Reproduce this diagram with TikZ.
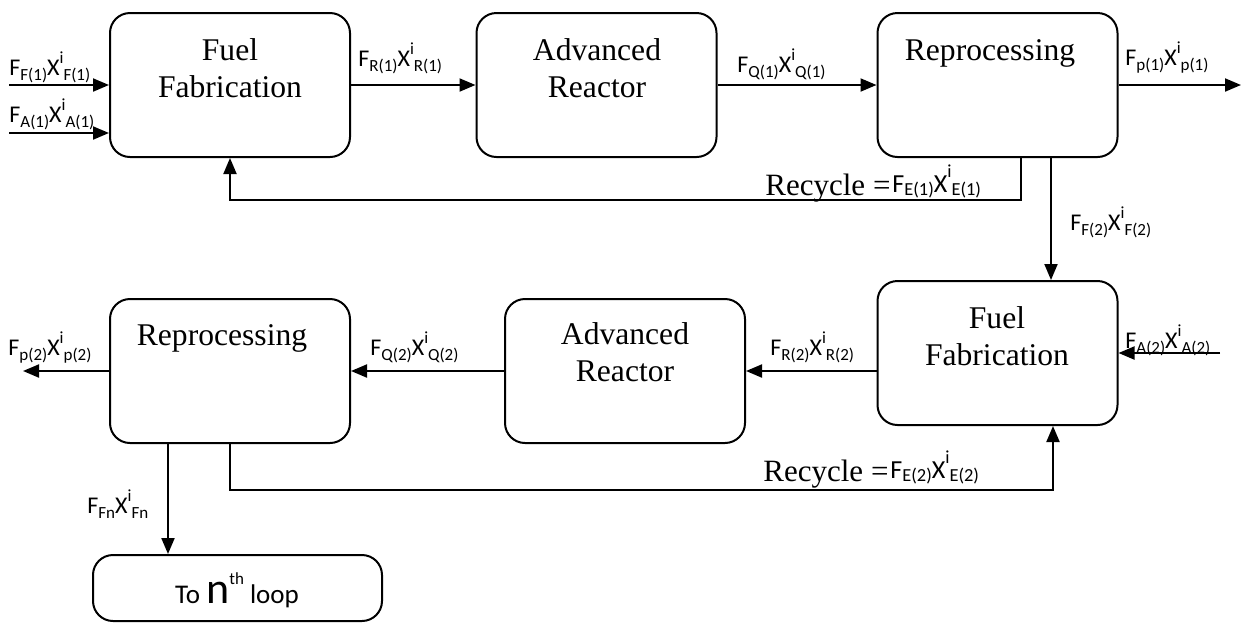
\documentclass[tikz,border=0pt]{standalone}
\usepackage{fontspec}
\setmainfont{Liberation Serif}
\newfontfamily\calfont{Carlito}
\usetikzlibrary{arrows.meta}

% stream label: F_{s} X^{i}_{s}
\newcommand{\lowsub}[1]{\raisebox{-0.22em}{\fontsize{8.5}{9}\selectfont #1}}
\newcommand{\highsup}[1]{\raisebox{0.5em}{\fontsize{8.5}{9}\selectfont #1}}
\newcommand{\flowlbl}[1]{F\lowsub{#1}X\highsup{i}\lowsub{#1}}
% recycle stream label, set slightly larger and a little higher
\newcommand{\reclbl}[1]{\raisebox{1.5pt}{\calfont\fontsize{13}{15}\selectfont
  F\raisebox{-0.12em}{\fontsize{9.2}{10}\selectfont #1}X\raisebox{0.55em}{\fontsize{9.2}{10}\selectfont i}\raisebox{-0.12em}{\fontsize{9.2}{10}\selectfont #1}}}

\begin{document}
\begin{tikzpicture}[x=0.5pt,y=-0.5pt,
  unit/.style={draw, line width=1pt, rounded corners=10pt,
    minimum width=120pt, minimum height=72pt, inner sep=0pt},
  unittext/.style={font=\fontsize{15.8}{18.5}\selectfont, align=center, inner sep=0pt},
  stream/.style={font=\calfont\fontsize{12}{14}\selectfont, inner sep=0pt, anchor=base west},
  recyc/.style={font=\fontsize{15.5}{18}\selectfont, inner sep=0pt, anchor=base west},
  flow/.style={line width=1pt, -{Triangle[length=8pt,width=6.5pt]}}]
\useasboundingbox (0,0) rectangle (1242,623);

% process units
\node[unit] (ff1) at (230,85) {};
\node[unit] (ar1) at (596.5,85) {};
\node[unit] (rp1) at (997.5,85) {};
\node[unit] (ff2) at (997.5,353) {};
\node[unit] (ar2) at (625,371) {};
\node[unit] (rp2) at (230,371) {};
\node[unit, minimum width=144.5pt, minimum height=33pt] (nth) at (237.5,588) {};

% unit titles
\node[unittext] (ff1t) at (230,67.7) {Fuel\\Fabrication};
\node[unittext] (ar1t) at (597,67.7) {Advanced\\Reactor};
\node[unittext, anchor=base] (rp1t) at (990,60) {Reprocessing};
\node[unittext] (ff2t) at (997,335.7) {Fuel\\Fabrication};
\node[unittext] (ar2t) at (625,351.7) {Advanced\\Reactor};
\node[unittext, anchor=base] (rp2t) at (222,345) {Reprocessing};
\node[font=\calfont\fontsize{13.5}{15}\selectfont, inner sep=0pt, anchor=base] (ntht) at (237,603)
  {To {\fontsize{22}{22}\selectfont n}\raisebox{0.7em}{\fontsize{8.5}{9}\selectfont th} loop};

% free ends of streams
\coordinate (in1) at (9,85);
\coordinate (in2) at (9,133);
\coordinate (out1) at (1241,85);
\coordinate (r1) at (1021,200);
\coordinate (d1) at (1051,0);
\coordinate (in3) at (1220,353);
\coordinate (out2) at (23,371);
\coordinate (d2) at (168,0);
\coordinate (r2) at (1053,490);

% first loop
\draw[flow] (in1) -- (in1 -| ff1.west);
\draw[flow] (in2) -- (in2 -| ff1.west);
\draw[flow] (ff1.east) -- (ar1.west);
\draw[flow] (ar1.east) -- (rp1.west);
\draw[flow] (rp1.east) -- (out1);
\draw[flow] (rp1.south -| r1) -- (r1) -- (r1 -| ff1.south) -- (ff1.south);
\draw[flow] (rp1.south -| d1) -- (ff2.north -| d1);

% second loop
\draw[flow] (in3) -- (ff2.east);
\draw[flow] (ar2.east -| ff2.west) -- (ar2.east);
\draw[flow] (ar2.west) -- (rp2.east);
\draw[flow] (rp2.west) -- (out2);
\draw[flow] (rp2.south -| d2) -- (nth.north -| d2);
\draw[flow] (rp2.south) -- (rp2.south |- r2) -- (r2) -- (ff2.south -| r2);

% stream labels
\node[stream] (lF1) at (9,75) {\flowlbl{F(1)}};
\node[stream] (lA1) at (9,122) {\flowlbl{A(1)}};
\node[stream] (lR1) at (358,66) {\flowlbl{R(1)}};
\node[stream] (lQ1) at (737,72) {\flowlbl{Q(1)}};
\node[stream] (lP1) at (1125,65) {\flowlbl{p(1)}};
\node[recyc] (lE1) at (765,195) {Recycle =\hspace{1pt}\reclbl{E(1)}};
\node[stream] (lF2) at (1070,230) {\flowlbl{F(2)}};
\node[stream] (lA2) at (1125,348) {\flowlbl{A(2)}};
\node[stream] (lR2) at (770,355) {\flowlbl{R(2)}};
\node[stream] (lQ2) at (370,355) {\flowlbl{Q(2)}};
\node[stream] (lP2) at (8,355) {\flowlbl{p(2)}};
\node[stream] (lFn) at (87,513) {\flowlbl{Fn}};
\node[recyc] (lE2) at (763,481) {Recycle =\hspace{1pt}\reclbl{E(2)}};
\end{tikzpicture}
\end{document}
